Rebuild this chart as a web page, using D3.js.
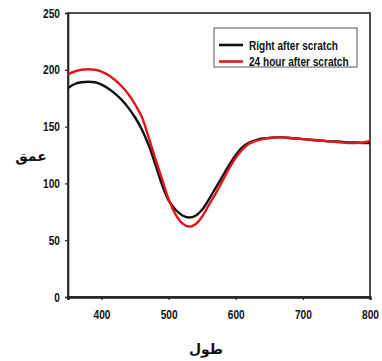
<!DOCTYPE html>
<html>
<head>
<meta charset="utf-8">
<script src="https://cdn.jsdelivr.net/npm/d3@7"></script>
<style>
  html, body { margin: 0; padding: 0; background: #fff; }
  svg { display: block; }
</style>
</head>
<body>
<svg id="chart" width="382" height="361"></svg>
<script>
// Wavelength samples (nm)
const wavelength = [350,360,370,380,390,400,410,420,430,440,450,460,470,480,490,500,510,520,530,540,550,560,570,580,590,600,610,620,630,640,650,660,670,680,690,700,710,720,730,740,750,760,770,780,790,800];

// Depth right after the scratch
const rightAfter = [184,187.5,189,189.5,189,187,183.5,179,173.5,166.5,158,147.5,134,117,99,85,77,72,70,71.5,77,86,96,106,116,125,132,136,138,139.5,140,140.5,140.5,140,139.5,139,138.5,138,137.5,137,137,136.5,136,136,135.5,135.5];

// Depth 24 hours after the scratch
const after24h = [196,198.5,200,200.5,200,198.5,195.5,191,185.5,178.5,169.5,158.5,141,122,104,86,73,65,62,64,71,81,91,102,113,122.5,130,135,137.5,139,140,140.5,140.5,140,139.5,139,138.5,138,137.5,137,136.5,136,135.5,135.5,136,137.5];

const xTicks = [400, 500, 600, 700, 800];
const yTicks = [0, 50, 100, 150, 200, 250];

const seriesNames = ["Right after scratch", "24 hour after scratch"];
const seriesColors = ["#111111", "#e3141b"];

const xLabel = "طول";
const yLabel = "عمق";

const narrowFont = "'Liberation Sans', Arial, sans-serif";
const condense = 0.78;

const svg = d3.select("#chart");
const margin = { left: 68, top: 13, right: 12, bottom: 64 };
const W = 382, H = 361;

const x = d3.scaleLinear().domain([350, 800]).range([margin.left, W - margin.right]);
const y = d3.scaleLinear().domain([0, 250]).range([H - margin.bottom, margin.top]);

// Plot frame
svg.append("rect")
  .attr("x", x(350)).attr("y", y(250))
  .attr("width", x(800) - x(350)).attr("height", y(0) - y(250))
  .attr("fill", "none").attr("stroke", "#222").attr("stroke-width", 1.6);

// Axes
const xAxis = svg.append("g")
  .attr("transform", `translate(0,${y(0)})`)
  .call(d3.axisBottom(x).tickValues(xTicks).tickSize(3).tickPadding(10));
const yAxis = svg.append("g")
  .attr("transform", `translate(${x(350)},0)`)
  .call(d3.axisLeft(y).tickValues(yTicks).tickSize(3).tickPadding(6));

[xAxis, yAxis].forEach(g => {
  g.select(".domain").attr("stroke", "#222").attr("stroke-width", 1.6);
  g.selectAll(".tick line").attr("stroke", "#222").attr("stroke-width", 1.2);
  g.selectAll(".tick text")
    .attr("font-family", narrowFont).attr("font-weight", "bold")
    .attr("font-size", 13).attr("fill", "#111");
});
xAxis.select(".domain").attr("stroke-width", 2.4);
// condensed numerals
xAxis.selectAll(".tick text").attr("transform", `scale(${condense},1)`);
yAxis.selectAll(".tick text")
  .attr("x", -8 / condense)
  .attr("transform", `scale(${condense},1)`);

// Curves
const line = d3.line()
  .x((d, i) => x(wavelength[i]))
  .y(d => y(d))
  .curve(d3.curveCatmullRom.alpha(0.5));

[rightAfter, after24h].forEach((vals, k) => {
  svg.append("path")
    .datum(vals)
    .attr("d", line)
    .attr("fill", "none")
    .attr("stroke", seriesColors[k])
    .attr("stroke-width", 2.4)
    .attr("stroke-linejoin", "round");
});

// Legend
const lg = svg.append("g");
lg.append("rect")
  .attr("x", 214).attr("y", 28).attr("width", 143).attr("height", 39)
  .attr("fill", "#fff").attr("stroke", "#555").attr("stroke-width", 1);
seriesNames.forEach((name, i) => {
  const yy = 45 + i * 16.5;
  lg.append("line")
    .attr("x1", 219).attr("x2", 243).attr("y1", yy).attr("y2", yy)
    .attr("stroke", seriesColors[i]).attr("stroke-width", 2.6);
  lg.append("text")
    .attr("transform", `translate(249,${yy + 4.5}) scale(0.806,1)`)
    .attr("font-family", narrowFont)
    .attr("font-weight", "bold").attr("font-size", 12.5).attr("fill", "#111")
    .text(name);
});

// Axis titles
svg.append("text")
  .attr("x", 31).attr("y", 161)
  .attr("text-anchor", "middle")
  .attr("font-family", "'DejaVu Sans', 'Noto Sans', sans-serif")
  .attr("font-weight", "bold").attr("font-size", 14).attr("fill", "#111")
  .text(yLabel);
svg.append("text")
  .attr("x", 206).attr("y", 354)
  .attr("text-anchor", "middle")
  .attr("font-family", "'DejaVu Sans', 'Noto Sans', sans-serif")
  .attr("font-weight", "bold").attr("font-size", 14).attr("fill", "#111")
  .text(xLabel);
</script>
</body>
</html>
